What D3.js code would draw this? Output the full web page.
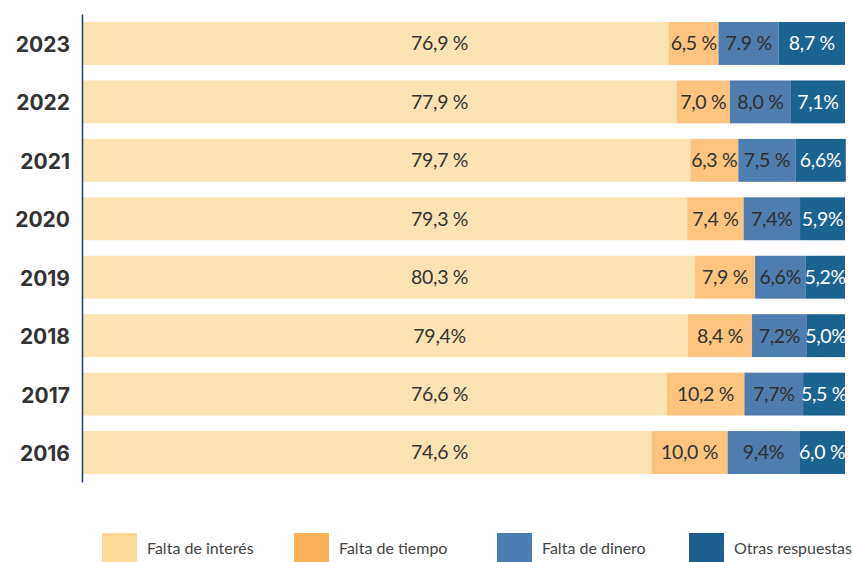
<!DOCTYPE html>
<html><head><meta charset="utf-8">
<script src="https://cdn.jsdelivr.net/npm/d3@7"></script>
<style>
body{margin:0;background:#fff;}
svg{display:block;}
</style></head>
<body>
<svg id="chart" width="852" height="562"></svg>
<script>
const years = ["2023","2022","2021","2020","2019","2018","2017","2016"];
const seriesNames = ["Falta de interés","Falta de tiempo","Falta de dinero","Otras respuestas"];
const faltaInteres = [76.9,77.9,79.7,79.3,80.3,79.4,76.6,74.6];
const faltaTiempo  = [6.5,7.0,6.3,7.4,7.9,8.4,10.2,10.0];
const faltaDinero  = [7.9,8.0,7.5,7.4,6.6,7.2,7.7,9.4];
const otras        = [8.7,7.1,6.6,5.9,5.2,5.0,5.5,6.0];
const labelsInteres = ["76,9 %","77,9 %","79,7 %","79,3 %","80,3 %","79,4%","76,6 %","74,6 %"];
const labelsTiempo  = ["6,5 %","7,0 %","6,3 %","7,4 %","7,9 %","8,4 %","10,2 %","10,0 %"];
const labelsDinero  = ["7.9 %","8,0 %","7,5 %","7,4%","6,6%","7,2%","7,7%","9,4%"];
const labelsOtras   = ["8,7 %","7,1%","6,6%","5,9%","5,2%","5,0%","5,5 %","6,0 %"];

const barColors = ["#fde3b1","#fcc47f","#4e7db0","#1b6391"];
const legendColors = ["#fdd996","#fdb157","#4a7db2","#1a5f8e"];
const labelColors = ["#333333","#333333","#2f2f2f","#ffffff"];

const values = [faltaInteres, faltaTiempo, faltaDinero, otras];
const labels = [labelsInteres, labelsTiempo, labelsDinero, labelsOtras];

const rows = years.map((y,i)=>{
  const r = {year:y};
  seriesNames.forEach((s,k)=>{ r[s]=values[k][i]; });
  return r;
});
const stack = d3.stack().keys(seriesNames)(rows);

const svg = d3.select("#chart");
const x = d3.scaleLinear().domain([0,100]).range([83,845]);
const y = d3.scaleBand().domain(years).range([14,482]).paddingInner(0.266).paddingOuter(0.137);

const font = "Lato, 'Open Sans', sans-serif";

stack.forEach((layer,k)=>{
  const g = svg.append("g");
  g.selectAll("rect").data(layer).join("rect")
    .attr("x", d=>x(d[0]))
    .attr("y", d=>y(d.data.year))
    .attr("width", d=>x(d[1])-x(d[0]))
    .attr("height", y.bandwidth())
    .attr("fill", barColors[k]);
  g.selectAll("text").data(layer).join("text")
    .attr("x", (d)=> k===0 ? x(46.8) : (x(d[0])+x(d[1]))/2)
    .attr("y", d=>y(d.data.year)+y.bandwidth()/2+2)
    .attr("text-anchor","middle")
    .attr("dominant-baseline","middle")
    .attr("font-family", font)
    .attr("font-weight", 400)
    .attr("font-size", 19.5)
    .attr("letter-spacing", -0.3)
    .attr("fill", labelColors[k])
    .text((d,i)=>labels[k][i]);
});

const axis = d3.axisLeft(y).tickSize(0).tickSizeOuter(0).tickPadding(12);
const ag = svg.append("g").attr("transform","translate(82,0)").call(axis);
ag.select(".domain").attr("stroke","#1f3f7a").attr("stroke-width",1.5);
ag.selectAll("text")
  .attr("font-family","Inter, 'Open Sans', sans-serif")
  .attr("font-weight","bold")
  .attr("font-size",21)
  .attr("dy","0.4em")
  .attr("fill","#333");

const legendX = [102,294,497,689];
const lg = svg.append("g");
seriesNames.forEach((s,k)=>{
  lg.append("rect").attr("x",legendX[k]).attr("y",533).attr("width",35).attr("height",29).attr("fill",legendColors[k]);
  lg.append("text").attr("x",legendX[k]+45).attr("y",550)
    .attr("dominant-baseline","middle")
    .attr("font-family",font).attr("font-size",16).attr("fill","#444").text(s);
});
</script>
</body></html>
